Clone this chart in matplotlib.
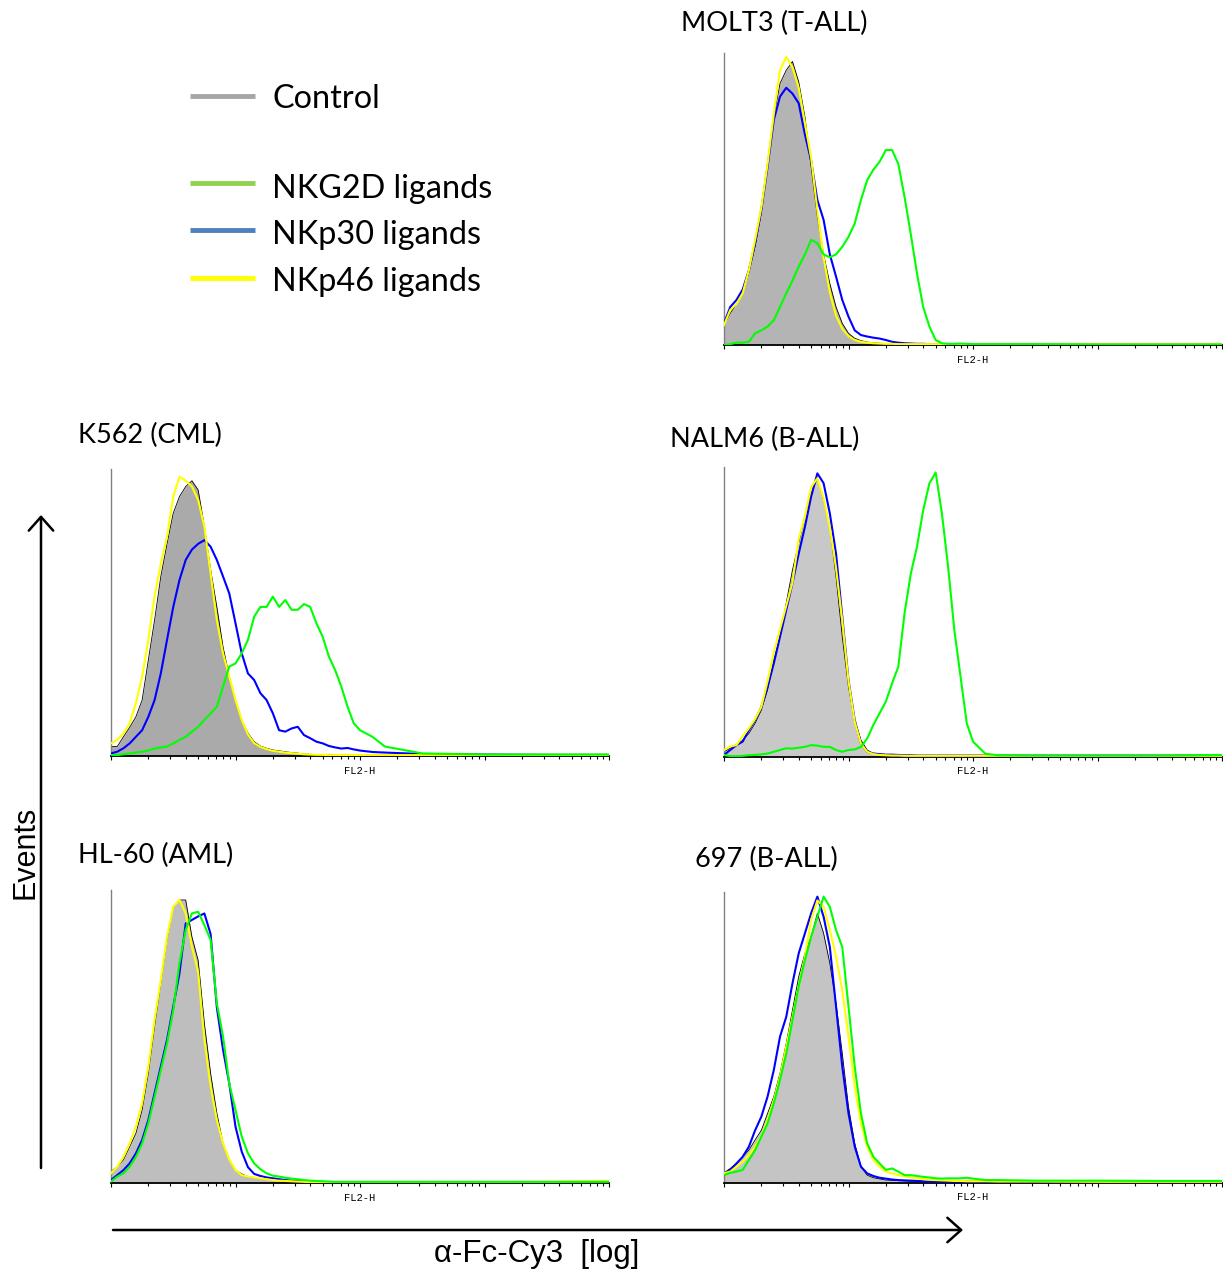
import numpy as np
import matplotlib
matplotlib.use("Agg")
import matplotlib.pyplot as plt
from matplotlib.lines import Line2D
from matplotlib.patches import FancyArrowPatch
from matplotlib.ticker import LogLocator, NullFormatter

# ---------------- data (x in log10 decades of FL2-H, y in % of panel max) ----------------
X_LOG = [0.00, 0.05, 0.10, 0.15, 0.20, 0.25, 0.30, 0.35, 0.40, 0.45,
         0.50, 0.55, 0.60, 0.65, 0.70, 0.75, 0.80, 0.85, 0.90, 0.95,
         1.00, 1.05, 1.10, 1.15, 1.20, 1.25, 1.30, 1.35, 1.40, 1.45,
         1.50, 1.55, 1.60, 1.65, 1.70, 1.75, 1.80, 1.85, 1.90, 1.95,
         2.00, 2.10, 2.20, 2.50, 3.00, 3.50, 4.00]

series_names = ["Control", "NKG2D ligands", "NKp30 ligands", "NKp46 ligands"]
panel_titles = ["MOLT3 (T-ALL)", "K562 (CML)", "NALM6 (B-ALL)", "HL-60 (AML)", "697 (B-ALL)"]

molt3_control = [6.8, 10.8, 14.0, 17.7, 24.5, 33.6, 45.0, 61.0, 78.0, 89.5,
                 94.0, 97.0, 90.0, 78.0, 61.0, 44.0, 31.0, 21.0, 13.0, 7.4,
                 4.0, 2.3, 1.5, 1.0, 0.8, 0.6, 0.5, 0.4, 0.4, 0.3,
                 0.3, 0.3, 0.2, 0.2, 0.2, 0.2, 0.2, 0.2, 0.2, 0.2,
                 0.2, 0.2, 0.2, 0.2, 0.2, 0.2, 0.2]
molt3_nkg2d = [0.0, 0.3, 0.8, 0.8, 1.1, 4.0, 5.0, 6.3, 8.5, 13.0,
               17.7, 22.0, 26.8, 31.0, 36.0, 34.8, 31.0, 30.0, 31.0, 33.6,
               37.0, 41.6, 49.6, 56.4, 60.0, 62.7, 66.7, 66.7, 62.0, 50.7,
               38.0, 24.5, 13.0, 6.3, 1.7, 0.6, 0.4, 0.4, 0.5, 0.4,
               0.3, 0.3, 0.3, 0.3, 0.2, 0.2, 0.2]
molt3_nkp30 = [7.4, 13.0, 15.4, 19.0, 25.6, 34.8, 46.3, 61.0, 77.0, 85.0,
               88.0, 86.0, 82.7, 72.0, 63.0, 49.6, 42.8, 31.0, 23.4, 15.4,
               9.7, 5.0, 3.4, 2.9, 2.5, 2.2, 1.7, 1.1, 0.8, 0.6,
               0.5, 0.4, 0.4, 0.3, 0.3, 0.3, 0.3, 0.3, 0.3, 0.3,
               0.3, 0.3, 0.3, 0.3, 0.3, 0.3, 0.3]
molt3_nkp46 = [6.8, 12.0, 14.0, 17.7, 25.6, 36.0, 47.0, 62.0, 79.0, 94.0,
               98.6, 95.0, 88.0, 76.0, 64.0, 46.0, 30.0, 18.0, 10.0, 5.5,
               3.0, 1.7, 1.1, 0.8, 0.6, 0.5, 0.4, 0.4, 0.3, 0.3,
               0.3, 0.3, 0.3, 0.3, 0.3, 0.3, 0.3, 0.3, 0.3, 0.3,
               0.3, 0.3, 0.3, 0.3, 0.3, 0.3, 0.3]

k562_control = [3.3, 3.3, 6.7, 10.0, 13.7, 19.5, 33.5, 47.4, 62.6, 74.0,
                84.7, 90.5, 94.0, 96.0, 92.8, 80.0, 65.0, 52.0, 38.0, 27.7,
                19.5, 12.6, 8.0, 5.0, 3.5, 2.7, 2.1, 1.8, 1.5, 1.2,
                1.0, 0.7, 0.6, 0.5, 0.4, 0.4, 0.3, 0.3, 0.3, 0.3,
                0.3, 0.3, 0.3, 0.3, 0.3, 0.3, 0.3]
k562_nkg2d = [0.3, 0.3, 0.6, 0.9, 1.2, 1.5, 1.9, 2.6, 3.0, 3.3,
              4.4, 5.6, 6.7, 8.5, 10.2, 12.6, 14.9, 17.2, 24.2, 31.2,
              32.3, 35.8, 40.5, 48.6, 52.0, 52.0, 55.6, 52.0, 54.4, 51.0,
              51.0, 53.0, 52.0, 46.3, 41.6, 34.7, 30.0, 24.2, 17.2, 11.4,
              9.0, 6.7, 3.3, 0.9, 0.5, 0.5, 0.5]
k562_nkp30 = [0.9, 1.5, 2.7, 4.4, 6.7, 9.0, 13.7, 19.5, 28.8, 40.5,
              52.0, 61.4, 68.4, 72.0, 74.0, 75.3, 73.0, 68.4, 62.6, 56.7,
              46.3, 35.8, 28.8, 26.5, 21.9, 19.5, 14.9, 9.0, 8.5, 9.6,
              10.2, 7.3, 6.2, 5.0, 4.4, 3.5, 3.0, 2.6, 2.8, 2.3,
              1.9, 1.4, 1.2, 0.7, 0.5, 0.4, 0.4]
k562_nkp46 = [4.4, 5.6, 7.9, 11.4, 18.4, 27.7, 40.5, 55.6, 67.0, 76.5,
              90.5, 97.4, 96.0, 94.0, 89.3, 80.0, 63.7, 47.4, 35.8, 27.7,
              19.5, 12.6, 7.5, 4.5, 3.2, 2.4, 1.8, 1.5, 1.2, 1.0,
              0.8, 0.6, 0.5, 0.4, 0.4, 0.3, 0.3, 0.3, 0.3, 0.3,
              0.3, 0.3, 0.3, 0.3, 0.3, 0.3, 0.3]

nalm6_control = [1.7, 2.9, 4.0, 5.7, 8.0, 11.5, 16.0, 23.0, 33.3, 41.4,
                 53.0, 64.4, 73.6, 82.8, 90.8, 96.0, 88.5, 79.3, 62.0, 41.4,
                 24.0, 12.6, 5.7, 2.3, 1.1, 0.7, 0.5, 0.4, 0.3, 0.3,
                 0.3, 0.3, 0.3, 0.3, 0.3, 0.3, 0.3, 0.3, 0.3, 0.3,
                 0.3, 0.3, 0.3, 0.3, 0.3, 0.3, 0.3]
nalm6_nkg2d = [0.6, 0.2, 0.2, 0.3, 0.5, 0.6, 0.8, 1.1, 1.7, 2.3,
               2.9, 2.8, 3.1, 3.4, 4.0, 3.8, 3.4, 3.4, 2.3, 1.7,
               2.3, 2.5, 3.4, 6.3, 11.0, 15.0, 19.0, 25.3, 31.0, 49.4,
               63.0, 72.4, 85.0, 94.3, 98.0, 84.0, 65.5, 43.7, 27.6, 11.5,
               5.2, 1.0, 0.5, 0.4, 0.4, 0.4, 0.6]
nalm6_nkp30 = [0.6, 2.3, 4.0, 5.2, 9.2, 12.6, 17.2, 24.0, 32.2, 41.4,
               50.6, 59.8, 70.0, 79.3, 89.7, 97.7, 94.3, 83.9, 70.0, 48.3,
               26.4, 12.6, 4.6, 1.7, 1.1, 0.9, 0.7, 0.7, 0.6, 0.5,
               0.5, 0.4, 0.4, 0.4, 0.4, 0.4, 0.4, 0.4, 0.4, 0.4,
               0.4, 0.4, 0.4, 0.4, 0.4, 0.4, 0.4]
nalm6_nkp46 = [2.3, 3.5, 4.0, 7.0, 9.8, 13.0, 17.2, 26.0, 36.0, 44.0,
               52.0, 60.0, 75.0, 83.0, 93.0, 96.0, 89.0, 79.0, 65.0, 47.0,
               26.0, 12.0, 4.5, 1.7, 0.9, 0.6, 0.5, 0.4, 0.4, 0.3,
               0.3, 0.3, 0.3, 0.3, 0.3, 0.3, 0.3, 0.3, 0.3, 0.3,
               0.3, 0.3, 0.3, 0.3, 0.3, 0.3, 0.3]

hl60_control = [4.0, 5.7, 8.0, 12.5, 17.0, 25.0, 37.5, 53.4, 68.2, 83.0,
                94.3, 96.6, 96.6, 84.0, 76.0, 54.5, 37.5, 23.9, 13.6, 8.0,
                4.5, 3.2, 2.3, 2.0, 1.7, 1.4, 1.1, 0.9, 0.8, 0.7,
                0.6, 0.5, 0.4, 0.3, 0.3, 0.3, 0.3, 0.3, 0.3, 0.3,
                0.3, 0.3, 0.3, 0.3, 0.3, 0.3, 0.3]
hl60_nkg2d = [0.6, 2.3, 3.4, 5.7, 9.0, 13.6, 20.5, 29.5, 38.6, 47.7,
              59.0, 75.0, 86.4, 92.0, 92.6, 88.0, 83.0, 61.4, 50.0, 34.0,
              25.0, 15.9, 10.2, 6.8, 4.8, 3.4, 2.6, 2.3, 1.9, 1.6,
              1.4, 1.1, 0.9, 0.8, 0.7, 0.6, 0.5, 0.5, 0.5, 0.5,
              0.5, 0.5, 0.5, 0.5, 0.5, 0.5, 0.5]
hl60_nkp30 = [1.1, 2.8, 4.5, 6.8, 10.2, 14.8, 21.6, 30.7, 39.8, 48.9,
              60.2, 71.6, 88.6, 89.8, 91.0, 92.0, 85.0, 60.0, 45.5, 34.0,
              19.3, 10.8, 5.5, 3.2, 2.5, 2.0, 1.7, 1.4, 1.1, 0.9,
              0.8, 0.6, 0.5, 0.4, 0.4, 0.4, 0.4, 0.4, 0.4, 0.4,
              0.4, 0.4, 0.4, 0.4, 0.4, 0.4, 0.4]
hl60_nkp46 = [3.4, 5.7, 9.0, 13.6, 19.3, 27.3, 39.8, 55.7, 69.3, 84.0,
              94.3, 96.6, 92.0, 80.7, 72.0, 49.0, 33.0, 21.6, 13.6, 8.0,
              4.5, 2.8, 2.3, 2.0, 1.7, 1.4, 1.1, 0.9, 0.8, 0.7,
              0.6, 0.5, 0.4, 0.4, 0.4, 0.4, 0.4, 0.4, 0.4, 0.4,
              0.4, 0.4, 0.4, 0.4, 0.4, 0.5, 0.8]

b697_control = [3.4, 4.9, 6.6, 8.9, 11.2, 14.7, 18.0, 23.8, 29.6, 37.6,
                47.9, 59.3, 70.8, 78.8, 84.5, 92.6, 85.7, 75.4, 61.6, 44.4,
                26.0, 13.5, 5.5, 2.6, 1.7, 1.3, 0.9, 0.8, 0.7, 0.6,
                0.5, 0.5, 0.4, 0.4, 0.4, 0.4, 0.4, 0.4, 0.4, 0.4,
                0.4, 0.4, 0.4, 0.4, 0.4, 0.4, 0.4]
b697_nkg2d = [2.6, 3.4, 3.8, 4.4, 7.8, 11.2, 15.8, 20.4, 27.3, 35.3,
              44.4, 55.9, 67.4, 76.5, 84.5, 91.4, 98.3, 94.8, 86.8, 81.0,
              60.5, 39.9, 23.8, 13.5, 8.9, 6.6, 4.4, 4.9, 3.8, 2.6,
              2.6, 2.3, 2.0, 1.8, 1.5, 1.4, 1.5, 1.5, 1.5, 1.7,
              1.4, 0.9, 0.9, 0.7, 0.7, 0.6, 0.6]
b697_nkp30 = [2.6, 4.4, 6.6, 8.9, 12.4, 18.0, 22.7, 29.6, 38.7, 50.2,
              57.0, 68.5, 78.8, 85.7, 92.6, 98.3, 91.4, 81.0, 60.5, 39.9,
              23.8, 12.4, 5.5, 3.2, 2.3, 1.7, 1.4, 1.1, 0.9, 0.8,
              0.7, 0.6, 0.5, 0.4, 0.4, 0.4, 0.4, 0.4, 0.4, 0.4,
              0.4, 0.4, 0.4, 0.4, 0.4, 0.4, 0.4]
b697_nkp46 = [3.2, 3.8, 5.5, 7.2, 9.5, 12.4, 15.8, 21.5, 28.4, 36.4,
              46.7, 57.0, 67.4, 77.7, 90.3, 97.0, 94.8, 86.8, 77.7, 66.2,
              50.2, 33.0, 20.4, 12.4, 7.8, 5.5, 3.8, 3.2, 2.6, 2.2,
              1.8, 1.5, 1.2, 1.0, 0.9, 0.8, 0.7, 0.6, 0.6, 0.5,
              0.5, 0.5, 0.4, 0.4, 0.3, 0.3, 0.3]

# ---------------- figure ----------------
W, H = 1223, 1272
fig = plt.figure(figsize=(W / 100, H / 100), dpi=100)
fig.patch.set_facecolor("white")

def fx(px):
    return px / W

def fy(py):
    return 1 - py / H

C_GREEN = "#00ff00"
C_BLUE = "#0000ff"
C_YELLOW = "#ffff00"

xs = np.power(10.0, np.array(X_LOG))

panels = [
    # title, (left, right, top, bottom) in px, fill grey, title pos (x, baseline), data
    (panel_titles[0], (724, 1222, 52.7, 345), "#b4b4b4", (681, 30.7),
     (molt3_control, molt3_nkg2d, molt3_nkp30, molt3_nkp46)),
    (panel_titles[1], (111, 609, 469.3, 756), "#aaaaaa", (78, 443.3),
     (k562_control, k562_nkg2d, k562_nkp30, k562_nkp46)),
    (panel_titles[2], (724, 1222, 466.7, 756.7), "#c8c8c8", (670, 447),
     (nalm6_control, nalm6_nkg2d, nalm6_nkp30, nalm6_nkp46)),
    (panel_titles[3], (111, 609, 890, 1183.3), "#bebebe", (78, 863),
     (hl60_control, hl60_nkg2d, hl60_nkp30, hl60_nkp46)),
    (panel_titles[4], (724, 1222, 891.7, 1182.7), "#c4c4c4", (695, 867.3),
     (b697_control, b697_nkg2d, b697_nkp30, b697_nkp46)),
]

TITLE_FONT = "Lato"

for title, (l, r, t, b), grey, (tx, tb), (ctrl, g, bl, yl) in panels:
    ax = fig.add_axes([fx(l), fy(b), (r - l) / W, (b - t) / H])
    ax.fill_between(xs, ctrl, 0, color=grey, lw=0, zorder=1)
    ax.plot(xs, ctrl, color="black", lw=0.6, zorder=2)
    ax.plot(xs, bl, color=C_BLUE, lw=1.5, zorder=3)
    ax.plot(xs, yl, color=C_YELLOW, lw=1.5, zorder=4)
    ax.plot(xs, g, color=C_GREEN, lw=1.5, zorder=5)
    ax.set_xscale("log")
    ax.set_xlim(1, 1e4)
    ax.set_ylim(0, 100)
    ax.xaxis.set_major_locator(LogLocator(base=10))
    ax.xaxis.set_minor_locator(LogLocator(base=10, subs=np.arange(2, 10)))
    ax.xaxis.set_minor_formatter(NullFormatter())
    ax.tick_params(axis="x", which="both", direction="out", labelbottom=False,
                   width=0.8, color="black")
    ax.tick_params(axis="x", which="major", length=3)
    ax.tick_params(axis="x", which="minor", length=2.2)
    ax.set_yticks([])
    for s in ("top", "right"):
        ax.spines[s].set_visible(False)
    ax.spines["left"].set_color("#808080")
    ax.spines["left"].set_linewidth(1.0)
    ax.spines["bottom"].set_color("black")
    ax.spines["bottom"].set_linewidth(1.3)
    ax.set_facecolor("none")
    ax.set_xlabel("FL2-H", fontsize=7.5, family="Liberation Mono", labelpad=4)
    fig.text(fx(tx), fy(tb), title, fontsize=19.5, family=TITLE_FONT,
             ha="left", va="baseline")

# ---------------- legend ----------------
leg_colors = ["#a6a6a6", "#92d050", "#4f81bd", "#ffff00"]
leg_line_y = [96, 183.3, 230, 277.7]
leg_text_base = [108.3, 198.3, 244.3, 290.7]
for name, col, ly, tb in zip(series_names, leg_colors, leg_line_y, leg_text_base):
    fig.add_artist(Line2D([fx(190), fx(255)], [fy(ly), fy(ly)], color=col, lw=3.5,
                          solid_capstyle="butt"))
    fig.text(fx(272), fy(tb), name, fontsize=23.3, family=TITLE_FONT,
             ha="left", va="baseline")

# ---------------- axis arrows ----------------
arrow_style = "->,head_length=0.45,head_width=0.4"
fig.add_artist(FancyArrowPatch((fx(41), fy(1168)), (fx(41), fy(515)),
                               transform=fig.transFigure, arrowstyle=arrow_style,
                               mutation_scale=22, lw=1.8, color="black",
                               shrinkA=0, shrinkB=0))
fig.add_artist(FancyArrowPatch((fx(113), fy(1230)), (fx(963), fy(1230)),
                               transform=fig.transFigure, arrowstyle=arrow_style,
                               mutation_scale=22, lw=1.8, color="black",
                               shrinkA=0, shrinkB=0))
fig.text(fx(25), fy(852), "Events", rotation=90, fontsize=22,
         family="Liberation Sans", ha="center", va="center")
fig.text(fx(537), fy(1254), "\u03b1-Fc-Cy3  [log]", fontsize=22.5,
         family="Liberation Sans", ha="center", va="center")

fig.savefig("out.png", dpi=100, facecolor="white")
